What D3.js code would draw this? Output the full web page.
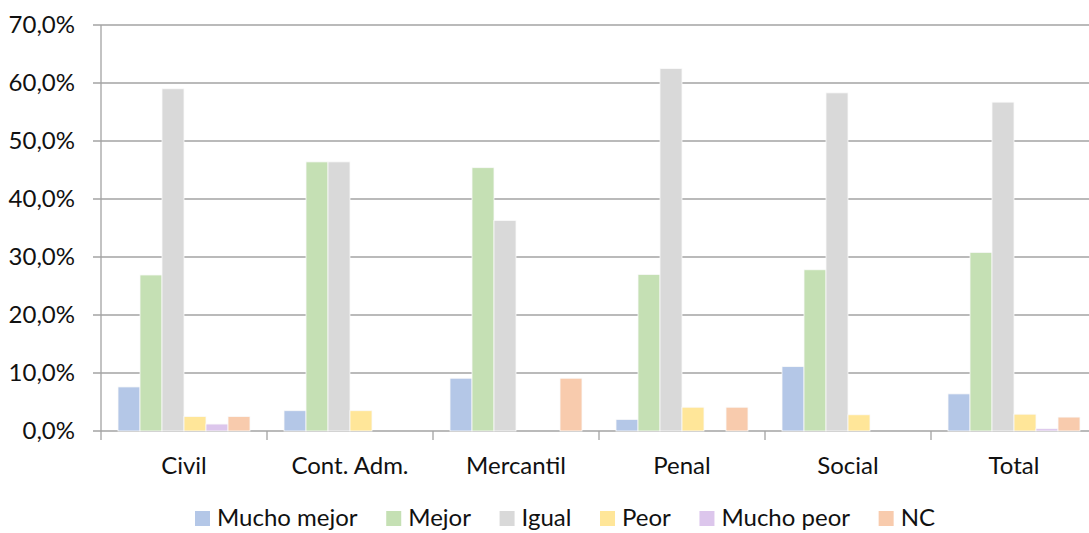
<!DOCTYPE html>
<html><head><meta charset="utf-8">
<script src="https://cdn.jsdelivr.net/npm/d3@7"></script>
<style>body{margin:0;background:#fff}svg{display:block}text{font-family:Lato,"Liberation Sans",sans-serif;fill:#111}</style>
</head><body><svg id="c" width="1089" height="533"></svg>
<script>
const categories = ["Civil","Cont. Adm.","Mercantil","Penal","Social","Total"];
const seriesNames = ["Mucho mejor","Mejor","Igual","Peor","Mucho peor","NC"];
const seriesColors = ["#b4c7e7","#c5e0b4","#d9d9d9","#ffe699","#dcc6ec","#f8cbad"];
const muchoMejor = [7.6, 3.5, 9.1, 2.0, 11.1, 6.4];
const mejor      = [26.9, 46.4, 45.4, 27.0, 27.8, 30.8];
const igual      = [59.0, 46.4, 36.3, 62.5, 58.3, 56.7];
const peor       = [2.5, 3.5, 0, 4.1, 2.8, 2.9];
const muchoPeor  = [1.2, 0, 0, 0, 0, 0.4];
const nc         = [2.5, 0, 9.1, 4.1, 0, 2.4];
const yTicks = [0,10,20,30,40,50,60,70];
const seriesValues = [muchoMejor, mejor, igual, peor, muchoPeor, nc];

const svg = d3.select("#c");
const x = d3.scaleBand().domain(categories).range([101, 1097]).paddingInner(0).paddingOuter(0);
const xs = d3.scaleBand().domain(seriesNames).range([0, x.bandwidth()]).paddingInner(0).paddingOuter(17/22);
const y = d3.scaleLinear().domain([0,70]).range([431, 25]);
const fmt = v => v.toFixed(1).replace(".", ",") + "%";

svg.append("g").selectAll("line").data(yTicks).join("line")
  .attr("x1", 93).attr("x2", 1089).attr("y1", d => y(d)).attr("y2", d => y(d))
  .attr("stroke", "#a3a3a3").attr("stroke-width", 1.3);
svg.append("line").attr("x1",101).attr("x2",101).attr("y1",y(70)).attr("y2",y(0)).attr("stroke","#a3a3a3").attr("stroke-width",1.3);
svg.append("g").selectAll("text").data(yTicks).join("text")
  .attr("x", 75).attr("y", d => y(d)).attr("dy","0.35em").attr("text-anchor","end")
  .style("font-size","24px").text(fmt);
const bounds = categories.map(c => x(c)).concat([x(categories[categories.length-1]) + x.bandwidth()]);
svg.append("g").selectAll("line").data(bounds).join("line")
  .attr("x1", d=>d).attr("x2", d=>d).attr("y1", y(0)).attr("y2", y(0)+9)
  .attr("stroke","#a3a3a3").attr("stroke-width",1.3);
svg.append("g").selectAll("text").data(categories).join("text")
  .attr("x", d => x(d) + x.bandwidth()/2).attr("y", 474).attr("text-anchor","middle")
  .style("font-size","24px").text(d=>d);
seriesNames.forEach((s, si) => {
  svg.append("g").selectAll("rect").data(categories.map((c,i)=>({c, v: seriesValues[si][i]}))).join("rect")
    .filter(d => d.v > 0)
    .attr("x", d => x(d.c) + xs(s)).attr("width", xs.bandwidth())
    .attr("y", d => y(d.v)).attr("height", d => y(0) - y(d.v))
    .attr("fill", seriesColors[si]).attr("stroke","#fafafa").attr("stroke-width",0.8);
});
// legend
const lg = svg.append("g");
const gs = [], ws = [];
seriesNames.forEach((s, i) => {
  const g = lg.append("g");
  g.append("rect").attr("x", 0).attr("y", 511).attr("width", 15).attr("height", 15).attr("fill", seriesColors[i]);
  const t = g.append("text").attr("x", 22).attr("y", 526).style("font-size","24px").text(s);
  gs.push(g); ws.push(22 + t.node().getComputedTextLength());
});
const gap = (935 - 195 - d3.sum(ws)) / (ws.length - 1);
let lx = 195;
gs.forEach((g, i) => { g.attr("transform", `translate(${lx},0)`); lx += ws[i] + gap; });
</script></body></html>
